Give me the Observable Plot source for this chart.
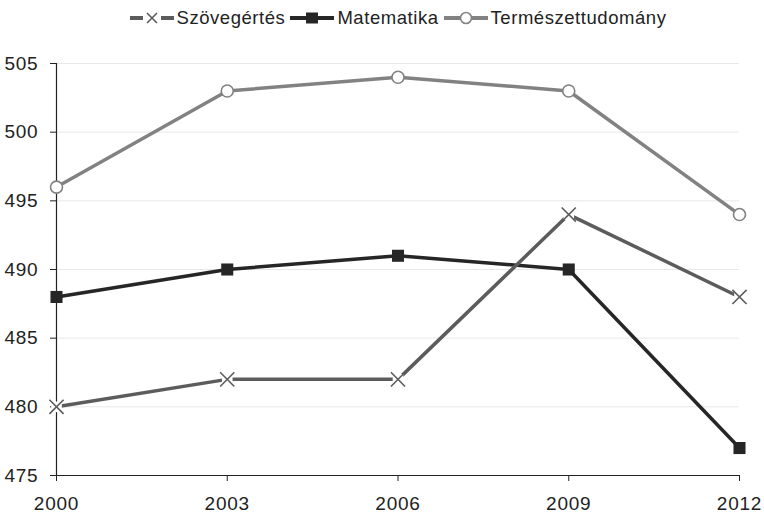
<!DOCTYPE html>
<html><head><meta charset="utf-8">
<script src="https://cdn.jsdelivr.net/npm/d3@7"></script>
<script src="https://cdn.jsdelivr.net/npm/@observablehq/plot@0.6"></script>
<style>
body{margin:0;background:#fff;font-family:"Liberation Sans",Arial,sans-serif;}
#legend{height:36px;display:flex;justify-content:center;align-items:center;font-size:18.5px;letter-spacing:0.55px;color:#222;gap:5px;padding-left:32px;box-sizing:border-box;}
#legend span{display:flex;align-items:center;gap:3px;}
</style></head><body>
<div id="legend"></div>
<div id="chart"></div>
<script>
const years = [2000, 2003, 2006, 2009, 2012];
const szovegertes = [480, 482, 482, 494, 488];
const matematika = [488, 490, 491, 490, 477];
const termeszet = [496, 503, 504, 503, 494];
const seriesNames = ["Szövegértés", "Matematika", "Természettudomány"];
const seriesColors = ["#5c5c5c", "#262626", "#828282"];
const yTicks = [475, 480, 485, 490, 495, 500, 505];

const data = [];
[szovegertes, matematika, termeszet].forEach((vals, i) => {
  vals.forEach((v, j) => data.push({year: years[j], value: v, series: seriesNames[i]}));
});
const bySeries = n => data.filter(d => d.series === n);

// legend
const lg = document.getElementById("legend");
const swatch = [
  `<svg width="44" height="14"><line x1="0" y1="7" x2="13" y2="7" stroke="${seriesColors[0]}" stroke-width="4"/><line x1="31" y1="7" x2="44" y2="7" stroke="${seriesColors[0]}" stroke-width="4"/><path d="M17,2L27,12M27,2L17,12" stroke="${seriesColors[0]}" stroke-width="1.6"/></svg>`,
  `<svg width="44" height="14"><line x1="0" y1="7" x2="44" y2="7" stroke="${seriesColors[1]}" stroke-width="4"/><rect x="16" y="1.5" width="12" height="11" fill="${seriesColors[1]}"/></svg>`,
  `<svg width="44" height="14"><line x1="0" y1="7" x2="44" y2="7" stroke="${seriesColors[2]}" stroke-width="4"/><circle cx="22" cy="7" r="5.5" fill="#fff" stroke="${seriesColors[2]}" stroke-width="1.6"/></svg>`
];
seriesNames.forEach((n, i) => {
  const s = document.createElement("span");
  s.innerHTML = swatch[i] + n;
  lg.appendChild(s);
});

const chart = Plot.plot({
  width: 764,
  height: 477,
  marginTop: 27,
  marginBottom: 38,
  marginLeft: 56,
  marginRight: 25,
  style: {fontFamily: "Liberation Sans, Arial, sans-serif", fontSize: "19px", color: "#222", background: "#fff"},
  x: {domain: [2000, 2012], ticks: years, tickFormat: d => String(d), label: null},
  y: {domain: [475, 505], ticks: yTicks, label: null},
  marks: [
    Plot.gridY(yTicks.filter(t => t !== 475), {stroke: "#e8e8e8", strokeOpacity: 1}),
    Plot.axisX({ticks: years, tickFormat: d => String(d), tickSize: 6, tickPadding: 15, label: null, stroke: "#222", fontSize: 19}),
    Plot.axisY({ticks: yTicks, tickSize: 6, tickPadding: 8, label: null, stroke: "#222", fontSize: 19}),
    Plot.ruleY([475], {stroke: "#222", strokeWidth: 1.2}),
    Plot.ruleX([2000], {stroke: "#222", strokeWidth: 1.2}),
    Plot.line(bySeries(seriesNames[2]), {x: "year", y: "value", stroke: seriesColors[2], strokeWidth: 3.5}),
    Plot.line(bySeries(seriesNames[1]), {x: "year", y: "value", stroke: seriesColors[1], strokeWidth: 3.5}),
    Plot.line(bySeries(seriesNames[0]), {x: "year", y: "value", stroke: seriesColors[0], strokeWidth: 3.5}),
    Plot.dot(bySeries(seriesNames[0]), {x: "year", y: "value", symbol: "square", r: 6, fill: "#fff", stroke: "none"}),
    Plot.dot(bySeries(seriesNames[0]), {x: "year", y: "value", symbol: "times", r: 6.5, stroke: seriesColors[0], strokeWidth: 1.6}),
    Plot.dot(bySeries(seriesNames[1]), {x: "year", y: "value", symbol: "square", r: 6.8, fill: seriesColors[1], stroke: "none"}),
    Plot.dot(bySeries(seriesNames[2]), {x: "year", y: "value", symbol: "circle", r: 6, fill: "#fff", stroke: seriesColors[2], strokeWidth: 1.6})
  ]
});
const sel = d3.select(chart);
sel.selectAll("text").style("font-size", "19px").style("letter-spacing", "0.8px").style("font-family", "Liberation Sans, Arial, sans-serif");
sel.selectAll('g[aria-label="y-axis tick label"] text').attr("transform", function() {
  const t = this.getAttribute("transform") || "";
  return t + " translate(-4,0)";
});
document.getElementById("chart").appendChild(chart);
</script>
</body></html>
